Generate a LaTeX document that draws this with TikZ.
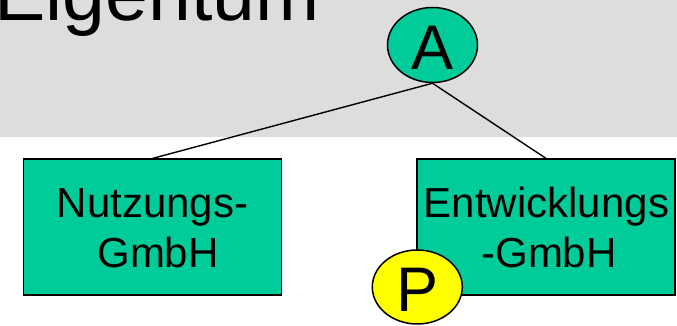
\documentclass[tikz,border=0pt]{standalone}
\usepackage{fontspec}
\setmainfont{Liberation Sans}
\usetikzlibrary{shapes.geometric}
\definecolor{boxgreen}{RGB}{0,204,153}
\definecolor{bandgray}{RGB}{221,221,221}
\definecolor{pyellow}{RGB}{255,255,0}
\begin{document}
\begin{tikzpicture}[x=1pt,y=1pt,
  gbox/.style={draw=black, line width=1.5pt, fill=boxgreen, minimum width=258pt, minimum height=136pt, inner sep=0pt},
  btext/.style={font=\fontsize{42}{50}\selectfont, anchor=base, inner sep=0pt},
  circ/.style={ellipse, draw=black, line width=1.5pt, minimum width=90pt, minimum height=75pt, inner sep=0pt, font=\fontsize{63}{70}\selectfont, text height=50pt, text depth=0pt},
  conn/.style={draw=black, line width=1.4pt}]
\useasboundingbox (0,0) rectangle (677,326);
\fill[white] (0,0) rectangle (677,326);
\fill[bandgray] (0,188.5) rectangle (677,326);
\node[anchor=base west, inner sep=0pt, font=\fontsize{77}{90}\selectfont] (title) at (-6,305.3) {Eigentum};
\node[gbox] (N) at (152.5,98.8) {};
\node[gbox] (E) at (545.8,99) {};
\node[btext] (n1) at (152.5,108.7) {Nutzungs-};
\node[btext] (n2) at (158,58.3) {GmbH};
\node[btext] (e1) at (546.5,108.7) {Entwicklungs};
\node[btext] (e2) at (549,58.3) {-GmbH};
\node[circ, fill=boxgreen] (A) at (432.5,281) {A};
\draw[conn] (A.south) -- (N.north);
\draw[conn] (A.south) -- (E.north);
\node[circ, fill=pyellow, minimum height=74pt] (P) at (417.3,39) {P};
\end{tikzpicture}
\end{document}
